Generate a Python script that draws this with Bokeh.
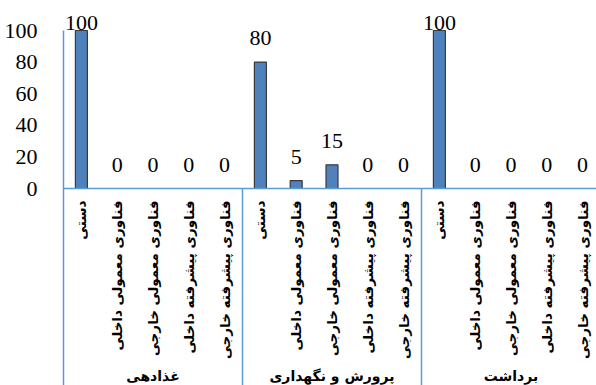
import numpy as np
from bokeh.plotting import figure
from bokeh.models import Range1d, FixedTicker, Span, ColumnDataSource
from bokeh.core.properties import value
from bokeh.embed import file_html
from bokeh.resources import INLINE

# Stages (groups) and technology levels (categories within each group)
groups = ["غذادهی", "پرورش و نگهداری", "برداشت"]
categories = [
    "دستی",
    "فناوری معمولی داخلی",
    "فناوری معمولی خارجی",
    "فناوری پیشرفته داخلی",
    "فناوری پیشرفته خارجی",
]
# Percentage share for each category, one list per group
values_feeding = [100, 0, 0, 0, 0]
values_rearing = [80, 5, 15, 0, 0]
values_harvest = [100, 0, 0, 0, 0]
y_ticks = [0, 20, 40, 60, 80, 100]

series = [values_feeding, values_rearing, values_harvest]

n_cat = len(categories)
n_grp = len(groups)
vals = np.array([v for s in series for v in s], dtype=float)
xs = np.arange(n_grp * n_cat) + 0.5
cat_labels = [c for _ in groups for c in categories]

# Vertical scale: pixels per percentage point, zero line sits 188 px from the top
PX = 1.58
ZERO_PX = 188
H, W = 385, 596
LEFT = 63
CAT_PX = 35.8

NUM_FONT = "Liberation Serif"
FA_FONT = "DejaVu Sans"

y_range = Range1d(-(H - ZERO_PX) / PX, ZERO_PX / PX)
x_range = Range1d(0, (W - LEFT) / CAT_PX)

p = figure(width=W, height=H, x_range=x_range, y_range=y_range,
           output_backend="svg", toolbar_location=None,
           min_border_left=LEFT, min_border_right=0,
           min_border_top=0, min_border_bottom=0)
p.outline_line_color = None
p.grid.visible = False
p.xaxis.visible = False
p.background_fill_color = "white"
p.border_fill_color = "white"

AXIS_COLOR = "#5B9BD5"

yax = p.yaxis[0]
yax.ticker = FixedTicker(ticks=y_ticks)
yax.bounds = (y_range.start, max(y_ticks))
yax.axis_line_color = AXIS_COLOR
yax.axis_line_width = 1.5
yax.major_tick_line_color = None
yax.minor_tick_line_color = None
yax.major_label_standoff = 20
yax.major_label_text_font = NUM_FONT
yax.major_label_text_font_size = "22px"
yax.major_label_text_color = "black"

# Value labels float 24 px above each bar, but never higher than 22 px from the top
label_cap = (ZERO_PX - 22) / PX
src = ColumnDataSource(dict(x=xs, label=[f"{int(v)}" for v in vals],
                            label_y=np.minimum(vals + 24 / PX, label_cap)))

# Bars (zero values draw nothing)
pos = vals > 0
p.vbar(x=xs[pos], top=vals[pos], bottom=0, width=0.335,
       fill_color="#4F81BD", line_color="#3A3A3A", line_width=1.2)

p.text(x="x", y="label_y", text="label", source=src,
       text_font=value(NUM_FONT), text_font_size="22px",
       text_align="center", text_baseline="middle", text_color="black")

# Zero line and group separators forming the category table
p.add_layout(Span(location=0, dimension="width", line_color=AXIS_COLOR, line_width=1.5))
sep_x = np.arange(1, n_grp + 1) * n_cat
p.segment(x0=sep_x, y0=np.full(len(sep_x), y_range.start), x1=sep_x,
          y1=np.zeros(len(sep_x)), line_color=AXIS_COLOR, line_width=1.5)

# Rotated category labels under the zero line
p.text(x=xs, y=np.full(len(xs), -12 / PX), text=cat_labels,
       angle=np.pi / 2, text_align="right", text_baseline="middle",
       text_font=value(FA_FONT), text_font_style="bold",
       text_font_size="13.5px", text_color="black")

# Group names at the bottom
gx = np.arange(n_grp) * n_cat + n_cat / 2
p.text(x=gx, y=np.full(n_grp, y_range.start + 2 / PX), text=groups,
       text_align="center", text_baseline="bottom",
       text_font=value(FA_FONT), text_font_style="bold",
       text_font_size="14px", text_color="black")

open("out.html", "w").write(file_html(p, INLINE))
